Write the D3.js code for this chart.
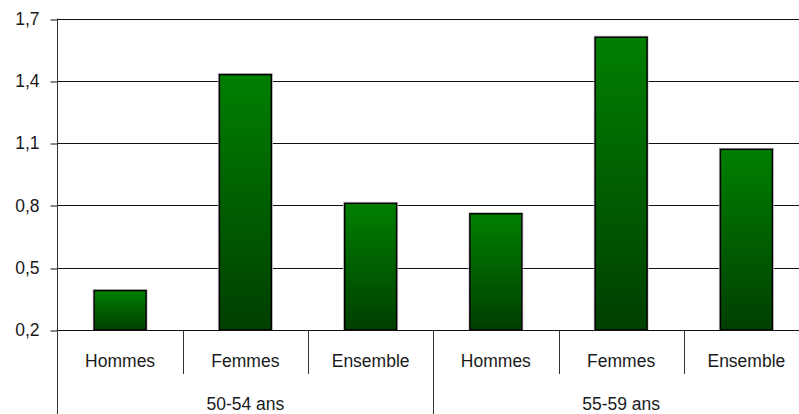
<!DOCTYPE html>
<html>
<head>
<meta charset="utf-8">
<script src="https://cdn.jsdelivr.net/npm/d3@7"></script>
<style>
  html, body { margin: 0; padding: 0; background: #fff; }
  svg { display: block; }
  text { font-family: "Liberation Sans", Arial, sans-serif; fill: #1a1a1a; }
</style>
</head>
<body>
<svg id="chart" width="799" height="414"></svg>
<script>
// Age groups and the sub-categories shown inside each group
const groups = ["50-54 ans", "55-59 ans"];
const categories = ["Hommes", "Femmes", "Ensemble"];
// One value per (group, category), in group order
const values50 = [0.39, 1.43, 0.81];
const values55 = [0.76, 1.61, 1.07];
const yTicks = [0.2, 0.5, 0.8, 1.1, 1.4, 1.7];

const rows = [];
groups.forEach((g, gi) => {
  const vals = gi === 0 ? values50 : values55;
  categories.forEach((c, ci) => rows.push({ key: g + "|" + c, group: g, cat: c, value: vals[ci] }));
});

const svg = d3.select("#chart");
const plotLeft = 57.5, plotRight = 809, plotTop = 18.5, plotBottom = 330;

const x = d3.scaleBand().domain(rows.map(d => d.key)).range([plotLeft, plotRight]).padding(0);
const y = d3.scaleLinear().domain([0.2, 1.7]).range([plotBottom, plotTop]);
const fmt = v => d3.format(".1f")(v).replace(".", ",");

// Bar gradient: bright green at top, dark green at bottom
const grad = svg.append("defs").append("linearGradient")
  .attr("id", "barGrad").attr("x1", 0).attr("y1", 0).attr("x2", 0).attr("y2", 1);
grad.append("stop").attr("offset", "0%").attr("stop-color", "#007f00");
grad.append("stop").attr("offset", "100%").attr("stop-color", "#003f00");

// Horizontal gridlines
svg.append("g").selectAll("line").data(yTicks).join("line")
  .attr("x1", plotLeft).attr("x2", 799)
  .attr("y1", d => Math.round(y(d)) + 0.5).attr("y2", d => Math.round(y(d)) + 0.5)
  .attr("stroke", "#111").attr("stroke-width", 1);

// Y axis with ticks on the left
const yAxis = d3.axisLeft(y).tickValues(yTicks).tickFormat(fmt).tickSize(7).tickPadding(11);
const ya = svg.append("g").attr("transform", `translate(${plotLeft},0)`).call(yAxis);
ya.select(".domain").remove();
ya.selectAll(".tick line").attr("stroke", "#111")
  .attr("transform", d => `translate(0,${Math.round(y(d)) + 0.5 - y(d)})`);
ya.selectAll(".tick text")
  .style("font-family", '"Liberation Sans", Arial, sans-serif')
  .style("font-size", "17.5px").attr("fill", "#1a1a1a");

// Vertical axis line running down through the category labels
svg.append("line").attr("x1", plotLeft).attr("x2", plotLeft).attr("y1", plotTop).attr("y2", 414)
  .attr("stroke", "#333").attr("stroke-width", 1);

// Bars
const bw = x.bandwidth() * 0.415;
const bars = svg.append("g").selectAll("g").data(rows).join("g");
bars.append("rect")
  .attr("x", d => x(d.key) + (x.bandwidth() - bw) / 2 - 1)
  .attr("y", d => y(d.value) - 1)
  .attr("width", bw + 2)
  .attr("height", d => plotBottom - y(d.value) + 1)
  .attr("fill", "none").attr("stroke", "#c8c8c8").attr("stroke-width", 1);
bars.append("rect")
  .attr("x", d => x(d.key) + (x.bandwidth() - bw) / 2)
  .attr("y", d => y(d.value))
  .attr("width", bw)
  .attr("height", d => plotBottom - y(d.value))
  .attr("fill", "url(#barGrad)").attr("stroke", "#000").attr("stroke-width", 1.5);

// Baseline redrawn above bars
svg.append("line").attr("x1", plotLeft).attr("x2", 799)
  .attr("y1", Math.round(plotBottom) + 0.5).attr("y2", Math.round(plotBottom) + 0.5)
  .attr("stroke", "#111");

// Category separators: short between categories, full height between groups
rows.forEach((d, i) => {
  if (i === 0) return;
  const xs = Math.round(x(d.key)) + 0.5;
  const full = i % categories.length === 0;
  svg.append("line").attr("x1", xs).attr("x2", xs)
    .attr("y1", plotBottom).attr("y2", full ? 414 : 374)
    .attr("stroke", "#333");
});

// Category labels
svg.append("g").selectAll("text").data(rows).join("text")
  .attr("x", d => x(d.key) + x.bandwidth() / 2)
  .attr("y", 367)
  .attr("text-anchor", "middle")
  .style("font-size", "17.5px")
  .text(d => d.cat);

// Group labels
svg.append("g").selectAll("text").data(groups).join("text")
  .attr("x", g => {
    const keys = rows.filter(r => r.group === g).map(r => r.key);
    return (x(keys[0]) + x(keys[keys.length - 1]) + x.bandwidth()) / 2;
  })
  .attr("y", 410)
  .attr("text-anchor", "middle")
  .style("font-size", "17.5px")
  .text(g => g);
</script>
</body>
</html>
